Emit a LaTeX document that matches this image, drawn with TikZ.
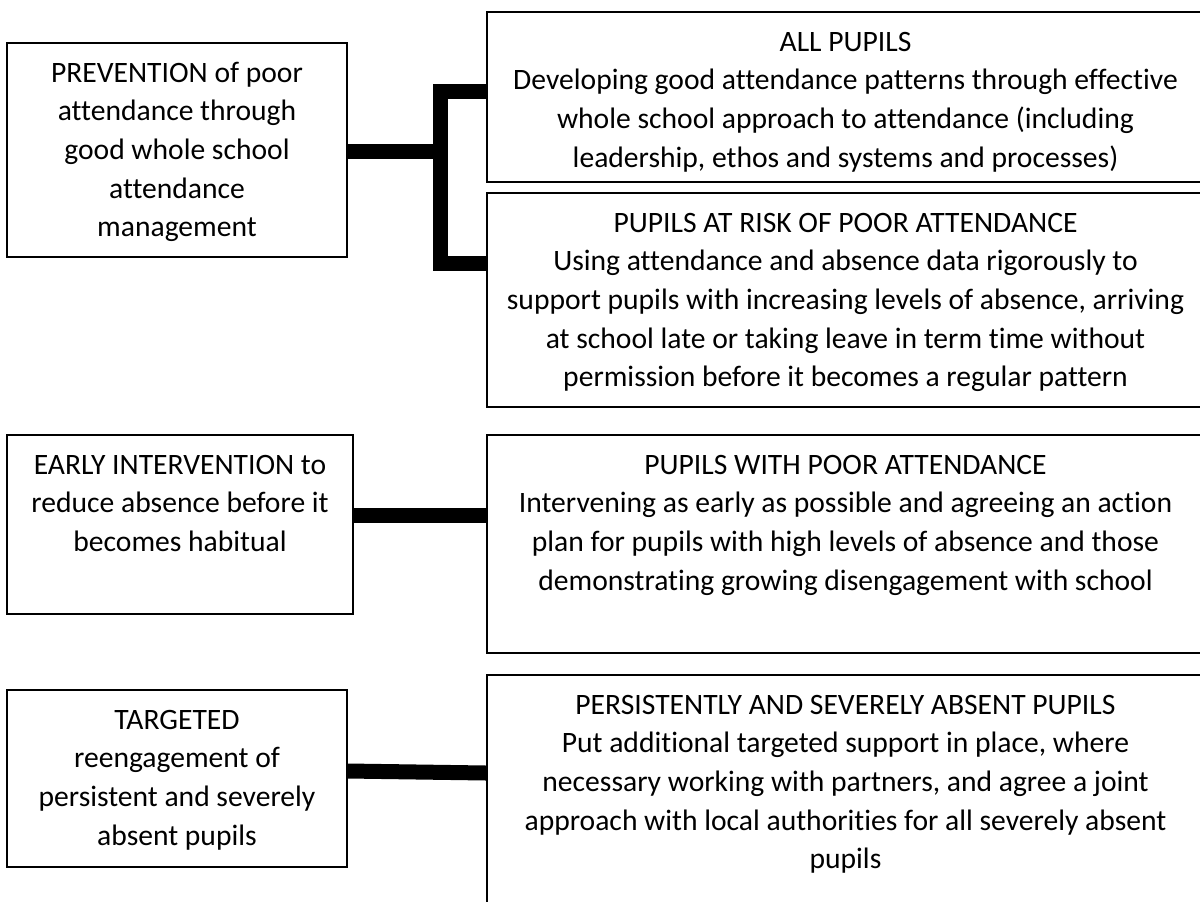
\documentclass[tikz,border=0pt]{standalone}
\usepackage{fontspec}
\setmainfont{Carlito}[Ligatures=NoCommon]
\usetikzlibrary{fit}

\begin{document}
\begin{tikzpicture}[x=0.75pt, y=-0.75pt,
    box/.style={draw=black, line width=1.2pt, inner sep=0pt},
    txt/.style={anchor=north, align=center, inner sep=0pt,
        font=\fontsize{22.2}{28.9}\selectfont},
    conn/.style={draw=black, line width=11.25pt}]

    % Pagina fissa (1200 x 901 px)
    \def\px{0.75pt}
    \useasboundingbox (0,0) rectangle (1200,901);
    \clip (0,0) rectangle (1200,901);

    % Riquadri a sinistra (livelli)
    \node[box, fit={(7,43) (347,257)}] (prevention) {};
    \node[box, fit={(7,435) (353,614)}] (early) {};
    \node[box, fit={(7,690) (347,867)}] (targeted) {};

    % Riquadri a destra (gruppi di alunni), tagliati dal bordo
    \node[box, fit={(487,12) (1204,182)}] (allpupils) {};
    \node[box, fit={(487,193) (1204,407)}] (atrisk) {};
    \node[box, fit={(487,435) (1204,653)}] (poorattendance) {};
    \node[box, fit={(487,675) (1204,940)}] (persistent) {};

    % Testi, allineati in alto
    \node[txt] (preventiontxt) at ([yshift=-13*\px]prevention.north)
        {\strut PREVENTION of poor\\attendance through\\good whole school\\attendance\\management};
    \node[txt] (earlytxt) at ([yshift=-13*\px]early.north)
        {\strut EARLY INTERVENTION to\\reduce absence before it\\becomes habitual};
    \node[txt] (targetedtxt) at ([yshift=-13*\px]targeted.north)
        {\strut TARGETED\\reengagement of\\persistent and severely\\absent pupils};
    \node[txt] (allpupilstxt) at ([yshift=-13*\px]allpupils.north)
        {\strut ALL PUPILS\\Developing good attendance patterns through effective\\whole school approach to attendance (including\\leadership, ethos and systems and processes)};
    \node[txt] (atrisktxt) at ([yshift=-13*\px]atrisk.north)
        {\strut PUPILS AT RISK OF POOR ATTENDANCE\\Using attendance and absence data rigorously to\\support pupils with increasing levels of absence, arriving\\at school late or taking leave in term time without\\permission before it becomes a regular pattern};
    \node[txt] (poorattendancetxt) at ([yshift=-13*\px]poorattendance.north)
        {\strut PUPILS WITH POOR ATTENDANCE\\Intervening as early as possible and agreeing an action\\plan for pupils with high levels of absence and those\\demonstrating growing disengagement with school};
    \node[txt] (persistenttxt) at ([yshift=-13*\px]persistent.north)
        {\strut PERSISTENTLY AND SEVERELY ABSENT PUPILS\\Put additional targeted support in place, where\\necessary working with partners, and agree a joint\\approach with local authorities for all severely absent\\pupils};

    % Collegamenti spessi
    \coordinate (bivio) at (440,151);
    \draw[conn] (prevention.east |- bivio) -- (bivio);
    \draw[conn] (allpupils.west |- 0,91) -| (bivio) |- (atrisk.west |- 0,263);
    \draw[conn] (early.east |- 0,515) -- (poorattendance.west |- 0,515);
    \draw[conn] (targeted.east |- 0,771) -- (persistent.west |- 0,773);

\end{tikzpicture}
\end{document}
